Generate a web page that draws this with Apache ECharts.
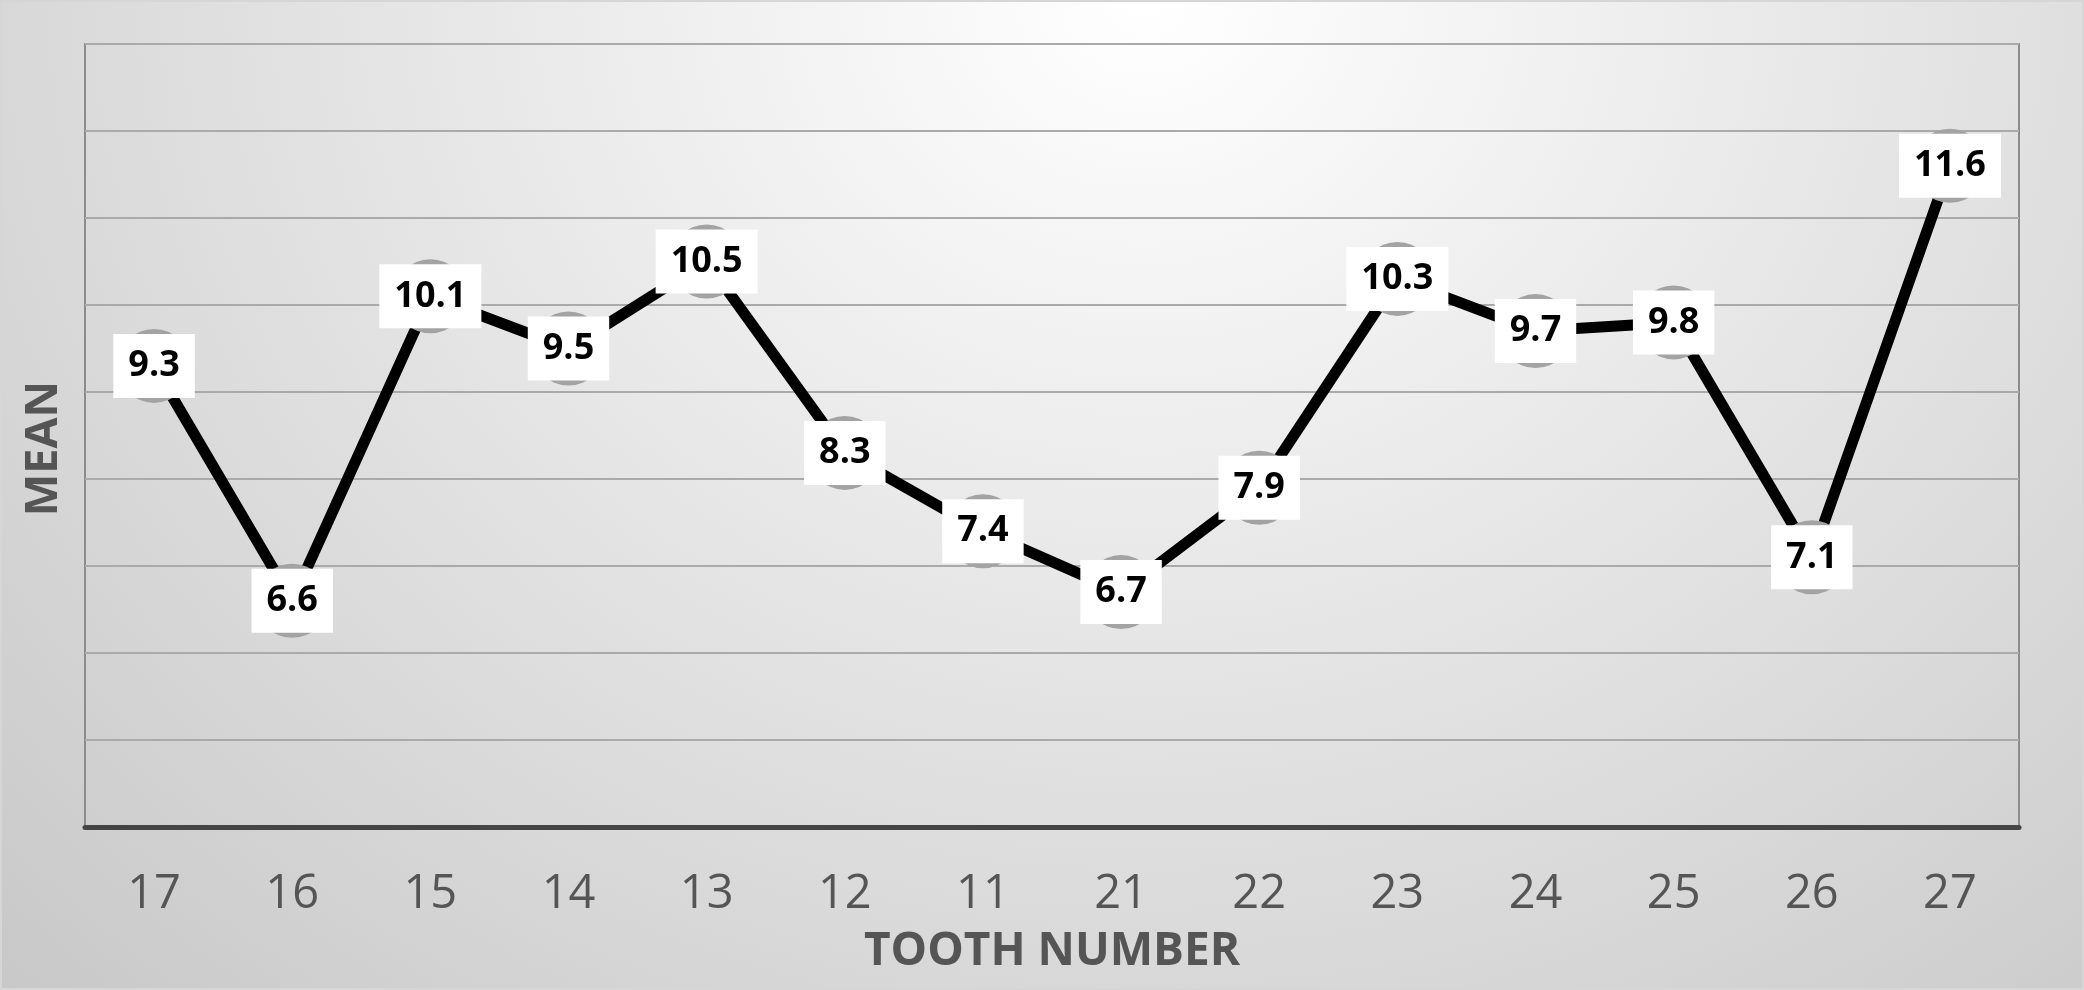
<!DOCTYPE html>
<html>
<head>
<meta charset="utf-8">
<title>Mean by tooth number</title>
<script src="https://cdn.jsdelivr.net/npm/echarts@6/dist/echarts.min.js"></script>
<style>
  html, body { margin: 0; padding: 0; }
  #chart {
    width: 2084px;
    height: 990px;
    box-sizing: border-box;
    border: 2px solid #d6d6d6;
    background: radial-gradient(ellipse at 55% 0%, #ffffff 0%, #e6e6e6 45%, #c8c8c8 100%);
  }
</style>
</head>
<body>
<div id="chart"></div>
<script>
// tooth numbers along the x axis
var teeth = ['17', '16', '15', '14', '13', '12', '11', '21', '22', '23', '24', '25', '26', '27']
// mean value for each tooth
var means = [9.3, 6.6, 10.1, 9.5, 10.5, 8.3, 7.4, 6.7, 7.9, 10.3, 9.7, 9.8, 7.1, 11.6]

var chart = echarts.init(document.getElementById('chart'))
chart.setOption({
  backgroundColor: 'transparent',
  animation: false,
  textStyle: { fontFamily: 'Open Sans' },
  grid: {
    left: 83,
    right: 63,
    top: 42,
    bottom: 161,
    show: true,
    borderColor: '#8c8c8c',
    borderWidth: 2,
    backgroundColor: 'transparent'
  },
  xAxis: {
    type: 'category',
    data: teeth,
    boundaryGap: true,
    name: 'TOOTH NUMBER',
    nameLocation: 'middle',
    nameGap: 102,
    nameTextStyle: {
      fontSize: 46,
      fontWeight: 'bold',
      color: '#555555'
    },
    axisLine: { show: true, lineStyle: { color: '#454545', width: 5 } },
    axisTick: { show: false },
    axisLabel: {
      fontSize: 47,
      color: '#555555',
      margin: 44
    }
  },
  yAxis: {
    type: 'value',
    min: 4,
    max: 13,
    interval: 1,
    name: 'MEAN',
    nameLocation: 'middle',
    nameGap: 18,
    nameTextStyle: {
      fontSize: 45,
      fontWeight: 'bold',
      color: '#555555',
      padding: [0, 26, 0, 0]
    },
    axisLine: { show: false },
    axisTick: { show: false },
    axisLabel: { show: false },
    splitLine: { lineStyle: { color: '#aaaaaa', width: 2 } }
  },
  series: [
    {
      type: 'line',
      data: means,
      lineStyle: { color: '#000000', width: 11 },
      symbol: 'circle',
      symbolSize: 74,
      itemStyle: { color: '#a3a3a3' },
      label: {
        show: true,
        position: 'inside',
        formatter: function(p) { return p.value.toFixed(1) },
        fontSize: 36,
        fontWeight: 'bold',
        color: '#000000',
        backgroundColor: '#ffffff',
        lineHeight: 40,
        padding: [13, 15, 11, 15]
      }
    }
  ]
})
</script>
</body>
</html>
